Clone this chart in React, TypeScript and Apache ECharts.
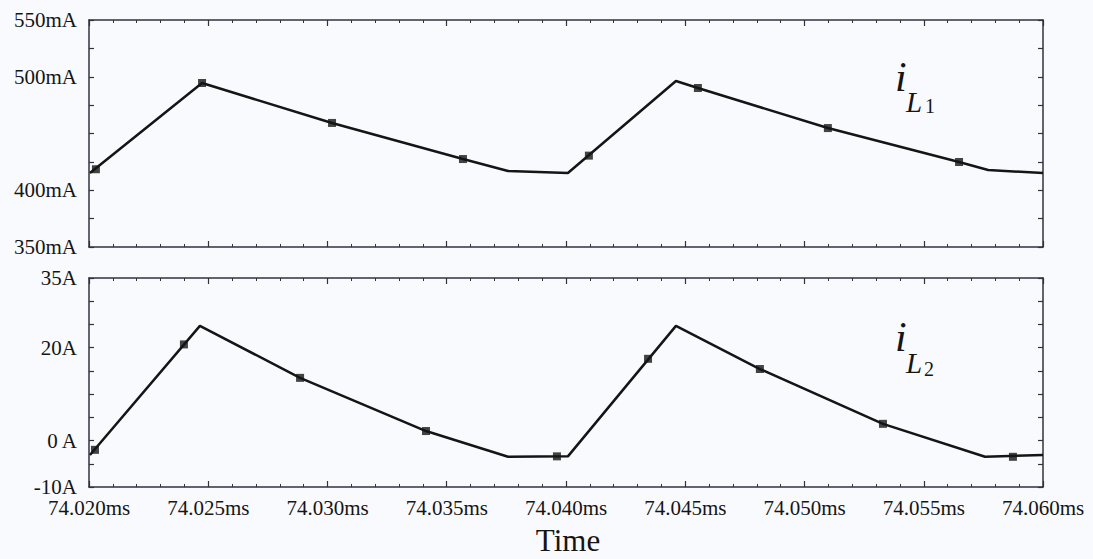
import React, { useEffect, useRef } from "react";
import * as echarts from "echarts";

// Top panel: inductor current i_L1 (mA)
const topTime = [74.02004, 74.02474, 74.03019, 74.03568, 74.03757, 74.04008, 74.04461, 74.04553, 74.05098, 74.05648, 74.0577, 74.06];
const topCurrent = [415.2, 494.5, 459.3, 427.5, 417.0, 415.2, 496.3, 490.1, 454.8, 424.9, 417.8, 415.2];
const topMarkerTime = [74.02029, 74.02474, 74.03019, 74.03568, 74.04096, 74.04553, 74.05098, 74.05648];
const topMarkerCurrent = [418.5, 494.5, 459.3, 427.5, 430.5, 490.1, 454.8, 424.9];

// Bottom panel: inductor current i_L2 (A)
const botTime = [74.02004, 74.02465, 74.02885, 74.03413, 74.03757, 74.04008, 74.04461, 74.04813, 74.05329, 74.05757, 74.06];
const botCurrent = [-3.1, 24.7, 13.5, 2.05, -3.5, -3.4, 24.7, 15.4, 3.6, -3.5, -3.1];
const botMarkerTime = [74.02025, 74.02398, 74.02885, 74.03413, 74.03962, 74.04344, 74.04813, 74.05329, 74.05874];
const botMarkerCurrent = [-2.0, 20.7, 13.5, 2.05, -3.4, 17.6, 15.4, 3.6, -3.5];

const topTickLabels = [350, 400, 500, 550];
const botTickLabels = [-10, 0, 20, 35];

const FONT = "'Liberation Serif', 'DejaVu Serif', serif";
const AXIS_COLOR = "#2f3240";
const INK = "#151515";

export default function App() {
  const ref = useRef<HTMLDivElement>(null);
  useEffect(() => {
    if (!ref.current) return;
    const chart = echarts.init(ref.current, null, { renderer: "svg" });

    const xBase = (gridIndex: number, position: string, showLabel: boolean) => ({
      type: "value",
      gridIndex,
      position,
      min: 74.02,
      max: 74.06,
      interval: 0.005,
      axisLine: { show: true, onZero: false, lineStyle: { color: AXIS_COLOR, width: 1.5 } },
      axisTick: { show: true, inside: true, length: 6, lineStyle: { color: AXIS_COLOR, width: 1.2 } },
      minorTick: { show: true, splitNumber: 5, length: 3, lineStyle: { color: AXIS_COLOR, width: 1 } },
      splitLine: { show: false },
      axisLabel: {
        show: showLabel,
        margin: 10,
        color: INK,
        fontFamily: FONT,
        fontSize: 21,
        formatter: (v: number) => v.toFixed(3) + "ms",
      },
    });

    const yBase = (gridIndex: number, position: string, min: number, max: number, interval: number, labels: number[] | null, unit: (v: number) => string) => ({
      type: "value",
      gridIndex,
      position,
      min,
      max,
      interval,
      axisLine: { show: true, onZero: false, lineStyle: { color: AXIS_COLOR, width: 1.5 } },
      axisTick: { show: true, inside: true, length: 5, lineStyle: { color: AXIS_COLOR, width: 1.2 } },
      minorTick: { show: false },
      splitLine: { show: false },
      axisLabel: {
        show: labels !== null,
        margin: 12,
        color: INK,
        fontFamily: FONT,
        fontSize: 21,
        formatter: (v: number) => (labels && labels.some((l) => Math.abs(l - v) < 1e-6) ? unit(v) : ""),
      },
    });

    const zip = (a: number[], b: number[]) => a.map((t, i) => [t, b[i]]);

    chart.setOption({
      animation: false,
      backgroundColor: "#f9fafd",
      grid: [
        { left: 89, top: 20, width: 954, height: 227 },
        { left: 89, top: 278, width: 954, height: 209 },
      ],
      xAxis: [
        xBase(0, "bottom", false),
        xBase(0, "top", false),
        xBase(1, "bottom", true),
        xBase(1, "top", false),
      ],
      yAxis: [
        yBase(0, "left", 350, 550, 25, topTickLabels, (v) => v + "mA"),
        yBase(0, "right", 350, 550, 25, null, (v) => ""),
        yBase(1, "left", -10, 35, 5, botTickLabels, (v) => (v === 0 ? "0 A" : v + "A")),
        yBase(1, "right", -10, 35, 5, null, (v) => ""),
      ],
      series: [
        {
          type: "line",
          xAxisIndex: 0,
          yAxisIndex: 0,
          data: zip(topTime, topCurrent),
          showSymbol: false,
          lineStyle: { color: INK, width: 2.5 },
        },
        {
          type: "scatter",
          xAxisIndex: 0,
          yAxisIndex: 0,
          data: zip(topMarkerTime, topMarkerCurrent),
          symbol: "rect",
          symbolSize: 8,
          itemStyle: { color: INK },
        },
        {
          type: "line",
          xAxisIndex: 2,
          yAxisIndex: 2,
          data: zip(botTime, botCurrent),
          showSymbol: false,
          lineStyle: { color: INK, width: 2.5 },
        },
        {
          type: "scatter",
          xAxisIndex: 2,
          yAxisIndex: 2,
          data: zip(botMarkerTime, botMarkerCurrent),
          symbol: "rect",
          symbolSize: 8,
          itemStyle: { color: INK },
        },
      ],
      graphic: [
        {
          type: "text",
          x: 568,
          y: 540,
          style: { text: "Time", fill: INK, font: `31px ${FONT}`, align: "center", verticalAlign: "middle" },
        },
        { type: "text", x: 895, y: 77, style: { text: "i", fill: INK, font: `italic 42px ${FONT}`, align: "left", verticalAlign: "middle" } },
        { type: "text", x: 906, y: 102, style: { text: "L", fill: INK, font: `italic 29px ${FONT}`, align: "left", verticalAlign: "middle" } },
        { type: "text", x: 925, y: 106, style: { text: "1", fill: INK, font: `20px ${FONT}`, align: "left", verticalAlign: "middle" } },
        { type: "text", x: 895, y: 337, style: { text: "i", fill: INK, font: `italic 42px ${FONT}`, align: "left", verticalAlign: "middle" } },
        { type: "text", x: 906, y: 363, style: { text: "L", fill: INK, font: `italic 29px ${FONT}`, align: "left", verticalAlign: "middle" } },
        { type: "text", x: 924, y: 369, style: { text: "2", fill: INK, font: `20px ${FONT}`, align: "left", verticalAlign: "middle" } },
      ],
    });
    return () => chart.dispose();
  }, []);

  return (
    <div
      ref={ref}
      style={{ position: "absolute", left: 0, top: 0, width: 1093, height: 559 }}
    />
  );
}
